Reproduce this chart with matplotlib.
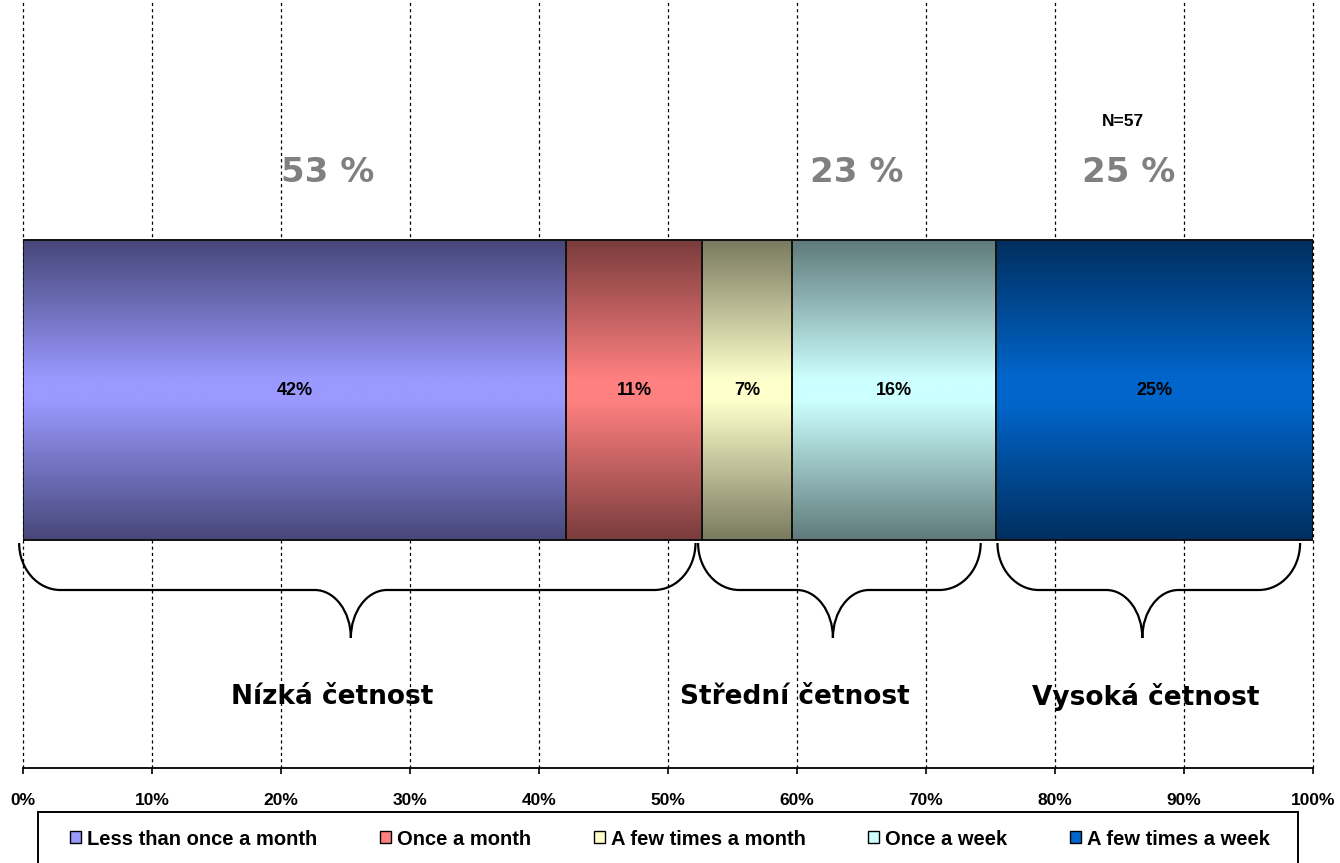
import numpy as np
import matplotlib
matplotlib.use("Agg")
import matplotlib.pyplot as plt
from matplotlib.patches import Rectangle, PathPatch, Patch
from matplotlib.path import Path

# ---- data ----
categories = ["Less than once a month", "Once a month", "A few times a month",
              "Once a week", "A few times a week"]
counts = [24, 6, 4, 9, 14]          # N = 57
n_total = 57
light_colors = ["#9999FF", "#FF8080", "#FFFFCC", "#CCFFFF", "#0066CC"]
dark_colors = ["#47477A", "#7A3C3C", "#7A7A60", "#5F7A7A", "#002F5F"]
groups = ["Nízká četnost", "Střední četnost", "Vysoká četnost"]
group_members = [[0, 1], [2, 3], [4]]
group_label_x = [23.6, 64.6, 85.7]     # positions of big % labels
group_name_x = [24.0, 59.8, 87.0]      # positions of group names
tick_values = list(range(0, 101, 10))
tick_labels = [f"{v}%" for v in tick_values]

pct = [100.0 * c / n_total for c in counts]
cum = np.concatenate([[0], np.cumsum(pct)])

W, H = 1340, 863
fig = plt.figure(figsize=(W / 100, H / 100), dpi=100)
ax = fig.add_axes([23 / W, (H - 768) / H, 1290 / W, 768 / H])

# y mapping: bar spans -0.5..0.5 ; 1 unit = 300 px
def ypx(p):
    return 0.5 - (p - 240) / 300.0

bars = ax.barh([0], pct, left=cum[:-1], height=1.0, color="none",
               edgecolor="#111111", linewidth=1.4, zorder=3)

# gradient fills
t = np.linspace(0, 1, 256)
prof = 1 - np.abs(2 * t - 1)
prof = np.clip(prof * 1.08, 0, 1)
for i, patch in enumerate(bars.patches):
    lc = np.array(matplotlib.colors.to_rgb(light_colors[i]))
    dc = np.array(matplotlib.colors.to_rgb(dark_colors[i]))
    img = dc[None, :] + (lc - dc)[None, :] * prof[:, None]
    img = img[:, None, :]
    x0, y0 = patch.get_x(), patch.get_y()
    im = ax.imshow(img, extent=[x0, x0 + patch.get_width(), y0, y0 + patch.get_height()],
                   aspect="auto", zorder=2, interpolation="bilinear")
    im.set_clip_path(patch)
    ax.text(x0 + patch.get_width() / 2, 0, f"{pct[i]:.0f}%", ha="center", va="center",
            fontsize=13, fontweight="bold", family="Liberation Sans", zorder=4)

ax.set_xlim(0, 100)
ax.set_ylim(ypx(768), ypx(0))

# grid
ax.set_xticks(tick_values)
ax.set_xticklabels(tick_labels, fontsize=12.5, fontweight="bold", family="Liberation Sans")
ax.set_yticks([])
ax.grid(axis="x", color="black", linestyle=(0, (2.5, 2.5)), linewidth=0.9, zorder=0)
ax.set_axisbelow(True)
for gl in ax.get_xgridlines():
    gl.set_clip_on(False)
for s in ["top", "left", "right"]:
    ax.spines[s].set_visible(False)
ax.spines["bottom"].set_linewidth(1.3)
ax.tick_params(axis="x", direction="out", length=4, width=1.2, pad=14)

# group percentages & braces
def brace(x0, x1, xm, ytop, ymid, ytip, r, rm):
    k = 0.552
    verts = [(x0, ytop), (x0, ytop + k * (ymid - ytop)), (x0 + r * (1 - k), ymid), (x0 + r, ymid),
             (xm - rm, ymid),
             (xm - rm * (1 - k), ymid), (xm, ytip - k * (ytip - ymid)), (xm, ytip),
             (xm, ytip - k * (ytip - ymid)), (xm + rm * (1 - k), ymid), (xm + rm, ymid),
             (x1 - r, ymid),
             (x1 - r * (1 - k), ymid), (x1, ytop + k * (ymid - ytop)), (x1, ytop)]
    codes = [Path.MOVETO, Path.CURVE4, Path.CURVE4, Path.CURVE4, Path.LINETO,
             Path.CURVE4, Path.CURVE4, Path.CURVE4,
             Path.CURVE4, Path.CURVE4, Path.CURVE4, Path.LINETO,
             Path.CURVE4, Path.CURVE4, Path.CURVE4]
    ax.add_patch(PathPatch(Path(verts, codes), facecolor="none", edgecolor="black",
                           linewidth=1.6, zorder=5, clip_on=False))

for gi, members in enumerate(group_members):
    lo = cum[members[0]]
    hi = cum[members[-1] + 1]
    gpct = sum(pct[m] for m in members)
    ax.text(group_label_x[gi], ypx(173), f"{gpct:.0f} %", ha="center", va="center",
            fontsize=24.5, fontweight="bold", color="#808080", family="DejaVu Sans", zorder=5)
    x0 = lo - 0.3 if gi < 2 else lo + 0.1
    x1 = hi - 0.5 if gi == 0 else (hi - 1.2 if gi == 1 else hi - 1.0)
    xm = (x0 + x1) / 2 - 0.5
    brace(x0, x1, xm, ypx(543), ypx(590), ypx(638), 3.2, 2.8)
    ax.text(group_name_x[gi], ypx(697), groups[gi], ha="center", va="center",
            fontsize=19, fontweight="bold", family="DejaVu Sans", zorder=5)

ax.text(85.3, ypx(121), f"N={n_total}", ha="center", va="center", fontsize=12.5,
        fontweight="bold", family="Liberation Sans", zorder=5)

# legend
handles = [Patch(facecolor=light_colors[i], edgecolor="black", linewidth=1.0)
           for i in range(len(categories))]
fig.legend(handles, categories, loc="center", bbox_to_anchor=(0.5, (H - 839) / H),
           ncol=5, frameon=False, handlelength=0.55, handleheight=0.55, handletextpad=0.3,
           columnspacing=3.1, prop={"family": "Liberation Sans", "weight": "bold", "size": 14.5})
fig.patches.append(Rectangle((38 / W, -0.05), 1260 / W, (H - 812) / H + 0.05,
                             transform=fig.transFigure, facecolor="none",
                             edgecolor="black", linewidth=1.4))

fig.savefig("out.png", dpi=100)
